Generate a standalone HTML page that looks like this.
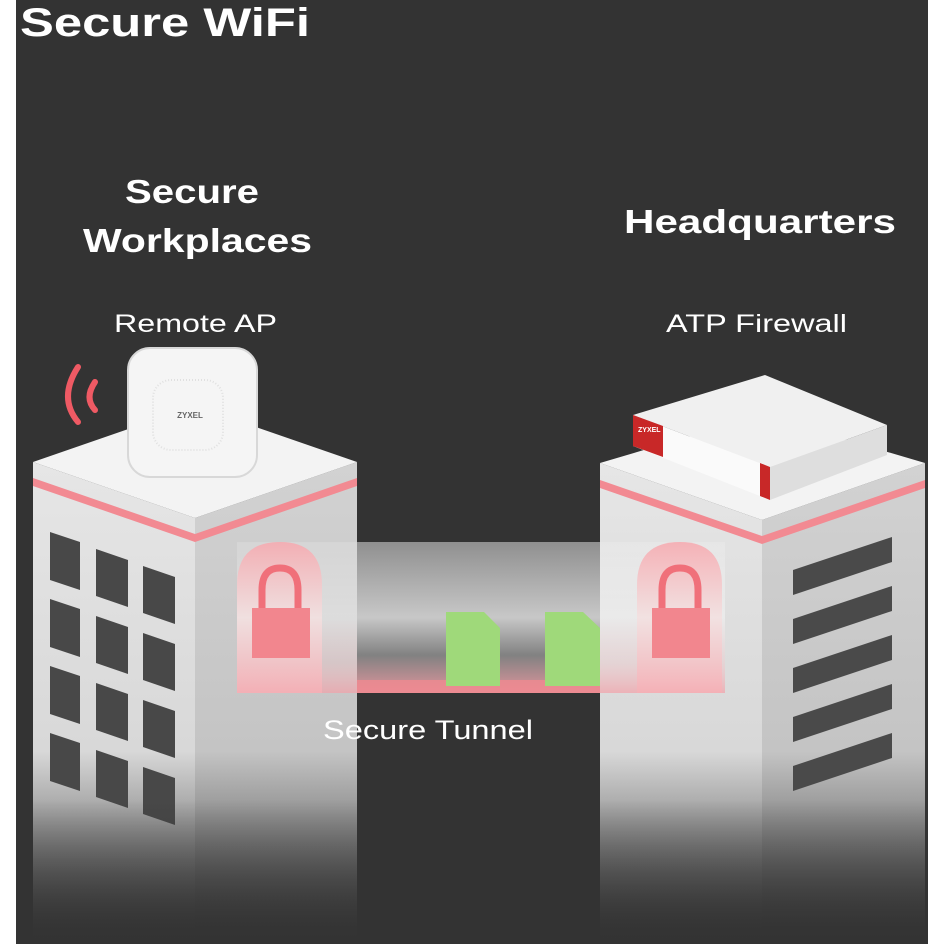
<!DOCTYPE html>
<html><head><meta charset="utf-8"><style>
html,body{margin:0;padding:0;background:#fff;}
svg{display:block}
text{font-family:"Liberation Sans",sans-serif;fill:#fff}
</style></head><body>
<svg width="944" height="944" viewBox="0 0 944 944" xmlns="http://www.w3.org/2000/svg">
<defs>
<linearGradient id="fadeL" x1="0" y1="0" x2="0" y2="1">
<stop offset="0" stop-color="#e6e6e6"/><stop offset="0.6" stop-color="#d8d8d8"/><stop offset="1" stop-color="#333"/></linearGradient>
<linearGradient id="fadeR" x1="0" y1="0" x2="0" y2="1">
<stop offset="0" stop-color="#d2d2d2"/><stop offset="0.6" stop-color="#c4c4c4"/><stop offset="1" stop-color="#333"/></linearGradient>
<linearGradient id="tun" x1="0" y1="0" x2="0" y2="1">
<stop offset="0" stop-color="#9a9a9a"/><stop offset="0.5" stop-color="#d8d8d8"/><stop offset="0.75" stop-color="#8a8a8a"/><stop offset="1" stop-color="#f3a0a8"/></linearGradient>
<linearGradient id="tunO" x1="0" y1="0" x2="0" y2="1">
<stop offset="0" stop-color="#ffffff" stop-opacity="0.15"/><stop offset="0.5" stop-color="#ffffff" stop-opacity="0.35"/><stop offset="0.8" stop-color="#f6c0c4" stop-opacity="0.3"/><stop offset="1" stop-color="#f3a0a8" stop-opacity="0.7"/></linearGradient>
<linearGradient id="arch" x1="0" y1="0" x2="0" y2="1">
<stop offset="0" stop-color="#f7a8ae"/><stop offset="0.5" stop-color="#f3e0e0"/><stop offset="1" stop-color="#f6b0b6"/></linearGradient>
<linearGradient id="fadeMask" x1="0" y1="0" x2="0" y2="1">
<stop offset="0" stop-color="#333" stop-opacity="0"/><stop offset="1" stop-color="#333" stop-opacity="1"/></linearGradient>
</defs>
<rect x="0" y="0" width="944" height="944" fill="#fff"/>
<rect x="16" y="0" width="912" height="944" fill="#333"/>

<text x="20" y="36" font-size="40" font-weight="bold" textLength="290" lengthAdjust="spacingAndGlyphs">Secure WiFi</text>
<text x="125" y="203" font-size="33" font-weight="bold" textLength="134" lengthAdjust="spacingAndGlyphs">Secure</text>
<text x="83" y="252" font-size="33" font-weight="bold" textLength="229" lengthAdjust="spacingAndGlyphs">Workplaces</text>
<text x="624" y="233" font-size="33" font-weight="bold" textLength="272" lengthAdjust="spacingAndGlyphs">Headquarters</text>
<text x="114" y="332" font-size="25" textLength="163" lengthAdjust="spacingAndGlyphs">Remote AP</text>
<text x="666" y="332" font-size="25" textLength="181" lengthAdjust="spacingAndGlyphs">ATP Firewall</text>

<!-- tunnel -->
<rect x="357" y="542" width="243" height="151" fill="url(#tun)" opacity="0.9"/>
<rect x="357" y="680" width="243" height="13" fill="#f08890" opacity="0.8"/>

<!-- left building -->
<polygon points="33,462 195,518 195,944 33,944" fill="url(#fadeL)"/>
<polygon points="195,518 357,462 357,944 195,944" fill="url(#fadeR)"/>
<polygon points="33,462 195,406 357,462 195,518" fill="#f3f3f3"/>
<polygon points="33,478 195,534 357,478 357,486 195,542 33,486" fill="#f28a92"/>
<g fill="#484848">
<polygon points="50,532 80,542 80,590 50,580"/><polygon points="96,549 128,560 128,607 96,596"/><polygon points="143,566 175,577 175,624 143,613"/>
<polygon points="50,599 80,609 80,657 50,647"/><polygon points="96,616 128,627 128,674 96,663"/><polygon points="143,633 175,644 175,691 143,680"/>
<polygon points="50,666 80,676 80,724 50,714"/><polygon points="96,683 128,694 128,741 96,730"/><polygon points="143,700 175,711 175,758 143,747"/>
<polygon points="50,733 80,743 80,791 50,781"/><polygon points="96,750 128,761 128,808 96,797"/><polygon points="143,767 175,778 175,825 143,814"/>
</g>
<!-- right building -->
<polygon points="600,463 762,520 762,944 600,944" fill="url(#fadeL)"/>
<polygon points="762,520 925,463 925,944 762,944" fill="url(#fadeR)"/>
<polygon points="600,463 762,415 925,463 762,520" fill="#f3f3f3"/>
<polygon points="600,480 762,536 925,480 925,488 762,544 600,488" fill="#f28a92"/>
<g fill="#4a4a4a">
<polygon points="793,570 892,537 892,562 793,595"/><polygon points="793,619 892,586 892,611 793,644"/>
<polygon points="793,668 892,635 892,660 793,693"/><polygon points="793,717 892,684 892,709 793,742"/>
<polygon points="793,766 892,733 892,758 793,791"/>
</g>
<rect x="16" y="800" width="912" height="144" fill="url(#fadeMask)"/>

<!-- tunnel overlay on buildings -->
<rect x="237" y="542" width="120" height="151" fill="url(#tunO)"/>
<rect x="600" y="542" width="125" height="151" fill="url(#tunO)"/>

<!-- arches with locks -->
<path d="M237,693 L237,585 Q237,542 280,542 Q322,542 322,585 L322,693 Z" fill="url(#arch)" opacity="0.85"/>
<path d="M637,693 L637,585 Q637,542 680,542 Q722,542 722,585 L722,693 Z" fill="url(#arch)" opacity="0.85"/>
<g fill="none" stroke="#f0707a" stroke-width="7"><path d="M262,612 L262,590 Q262,568 280,568 Q298,568 298,590 L298,612"/><path d="M662,612 L662,590 Q662,568 680,568 Q698,568 698,590 L698,612"/></g>
<rect x="252" y="608" width="58" height="50" fill="#f2868e"/>
<rect x="652" y="608" width="58" height="50" fill="#f2868e"/>

<!-- files -->
<path d="M446,612 L484,612 L500,628 L500,686 L446,686 Z" fill="#9fd97a"/>
<path d="M545,612 L583,612 L600,628 L600,686 L545,686 Z" fill="#9fd97a"/>
<text x="323" y="739" font-size="27" textLength="210" lengthAdjust="spacingAndGlyphs">Secure Tunnel</text>

<!-- AP -->
<rect x="128" y="348" width="129" height="129" rx="22" fill="#f5f5f5" stroke="#d8d8d8" stroke-width="2"/>
<rect x="153" y="380" width="70" height="70" rx="18" fill="none" stroke="#e0e0e0" stroke-width="2" stroke-dasharray="1 2"/>
<text x="190" y="418" font-size="8" font-weight="bold" text-anchor="middle" style="fill:#666">ZYXEL</text>
<g fill="none" stroke="#ef5a64" stroke-width="6" stroke-linecap="round">
<path d="M78,422 Q58,398 78,367"/><path d="M95,410 Q84,398 95,382"/></g>

<!-- firewall -->
<polygon points="633,415 765,375 887,425 770,467" fill="#f0f0f0"/>
<polygon points="633,415 770,467 770,500 633,446" fill="#fafafa"/>
<polygon points="633,415 663,426 663,457 633,446" fill="#c82828"/>
<polygon points="760,463 770,467 770,500 760,496" fill="#c82828"/>
<polygon points="770,467 887,425 887,455 770,500" fill="#dedede"/>
<text x="638" y="432" font-size="7" font-weight="bold">ZYXEL</text>
</svg>
</body></html>
